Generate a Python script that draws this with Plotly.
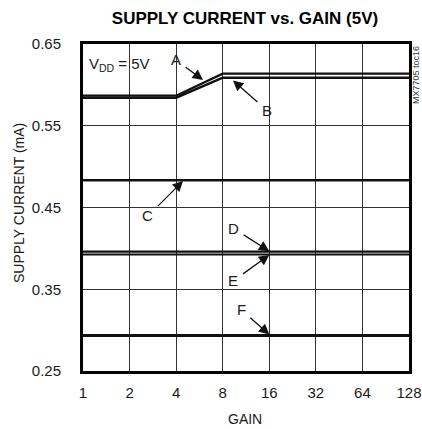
import math
import plotly.graph_objects as go

# ---- data ----
gains = [1, 2, 4, 8, 16, 32, 64, 128]
gain_labels = ["1", "2", "4", "8", "16", "32", "64", "128"]
curve_A = [0.5868, 0.5868, 0.5868, 0.6138, 0.6138, 0.6138, 0.6138, 0.6138]
curve_B = [0.5843, 0.5843, 0.5843, 0.6088, 0.6088, 0.6088, 0.6088, 0.6088]
curve_C = [0.4833] * 8
curve_D = [0.396] * 8
curve_E = [0.3925] * 8
curve_F = [0.2934] * 8
y_ticks = [0.25, 0.35, 0.45, 0.55, 0.65]
y_tick_labels = ["0.25", "0.35", "0.45", "0.55", "0.65"]

FONT = "Liberation Sans, Arial, sans-serif"
TXT = "#1a1a1a"

fig = go.Figure()
series = [
    ("A", curve_A, 2.3),
    ("B", curve_B, 2.6),
    ("C", curve_C, 2.6),
    ("D", curve_D, 2.2),
    ("E", curve_E, 2.2),
    ("F", curve_F, 3.0),
]
for name, ys, w in series:
    fig.add_trace(go.Scatter(x=gains, y=ys, mode="lines", name=name,
                             line=dict(color="#111111", width=w),
                             showlegend=False, hoverinfo="skip"))

def lg(g):
    return math.log10(g)

arrow_style = dict(showarrow=True, arrowhead=2, arrowsize=1.6, arrowwidth=1.3,
                   arrowcolor="#111111", axref="pixel", ayref="pixel",
                   font=dict(family=FONT, size=15, color=TXT), standoff=0,
                   startstandoff=4)
ann = [
    dict(text="A", x=lg(2 ** 2.577), y=0.606, ax=-27, ay=-20),
    dict(text="B", x=lg(2 ** 3.22), y=0.6055, ax=34, ay=30),
    dict(text="C", x=lg(2 ** 2.147), y=0.4825, ax=-35, ay=35),
    dict(text="D", x=lg(16), y=0.3965, ax=-36, ay=-23),
    dict(text="E", x=lg(16), y=0.392, ax=-36, ay=26),
    dict(text="F", x=lg(16), y=0.2945, ax=-28, ay=-25),
]
annotations = []
for a in ann:
    d = dict(arrow_style)
    d.update(a)
    d.update(xref="x", yref="y")
    annotations.append(d)

def px_note(text, px, py, size, angle=0, color=TXT):
    return dict(text=text, xref="paper", yref="paper",
                x=(px - 83) / 326, y=(371 - py) / 327, showarrow=False,
                xanchor="center", yanchor="middle", textangle=angle,
                font=dict(family=FONT, size=size, color=color))

annotations += [
    px_note("V<sub>DD</sub> = 5V", 119, 65, 15),
    px_note("MX7705 toc16", 416, 75, 9, -90, "#333333"),
    px_note("SUPPLY CURRENT (mA)", 19, 203, 14, -90),
    px_note("GAIN", 245, 419, 14),
]

fig.update_layout(
    width=422, height=429,
    margin=dict(l=83, r=13, t=44, b=58, autoexpand=False),
    paper_bgcolor="white", plot_bgcolor="white",
    title=dict(text="<b>SUPPLY CURRENT vs. GAIN (5V)</b>", x=245 / 422, xanchor="center",
               y=1 - 18 / 429, yanchor="middle",
               font=dict(family=FONT, size=17, color="#000000")),
    annotations=annotations,
    showlegend=False,
)
fig.update_xaxes(type="log", range=[0, math.log10(128)], tickvals=gains, ticktext=gain_labels,
                 showgrid=True, gridcolor="#333333", gridwidth=1,
                 showline=True, linecolor="#000000", linewidth=3, mirror=True,
                 ticks="", ticklabelstandoff=6, zeroline=False, automargin=False,
                 tickfont=dict(family=FONT, size=15, color=TXT))
fig.update_yaxes(range=[0.25, 0.65], tickvals=y_ticks, ticktext=y_tick_labels,
                 showgrid=True, gridcolor="#333333", gridwidth=1,
                 showline=True, linecolor="#000000", linewidth=3, mirror=True,
                 ticks="", ticklabelstandoff=16, zeroline=False, automargin=False,
                 tickfont=dict(family=FONT, size=15, color=TXT))

fig.write_html("out.html", config={"displayModeBar": False},
               post_script="document.body.style.margin='0';document.body.style.overflow='hidden';")
